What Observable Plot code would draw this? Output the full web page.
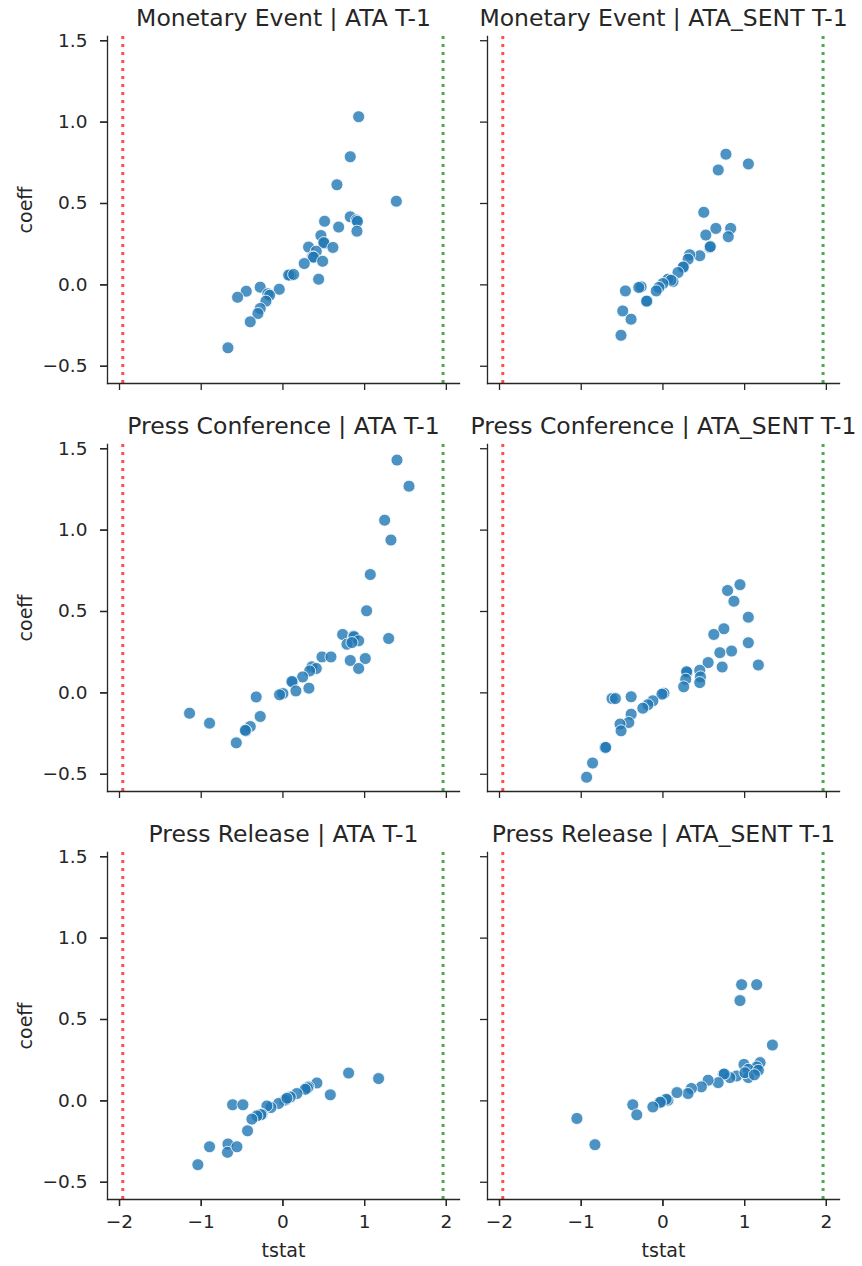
<!DOCTYPE html>
<html>
<head>
<meta charset="utf-8">
<script src="https://cdn.jsdelivr.net/npm/d3@7"></script>
<script src="https://cdn.jsdelivr.net/npm/@observablehq/plot@0.6"></script>
<style>
  html, body { margin: 0; padding: 0; background: #fff; }
  #chart { width: 862px; height: 1266px; }
</style>
</head>
<body>
<div id="chart"></div>
<script>
// ---- categories ----
const rows = ["Monetary Event", "Press Conference", "Press Release"];
const cols = ["ATA T-1", "ATA_SENT T-1"];
const xTicks = [-2, -1, 0, 1, 2];
const yTicks = [-0.5, 0, 0.5, 1.0, 1.5];
const critical = [-1.96, 1.96];
const xLabel = "tstat";
const yLabel = "coeff";

// ---- Monetary Event | ATA T-1 ----
const meAtaT = [0.927,0.824,0.661,1.388,0.824,0.900,0.912,0.906,0.510,0.682,0.465,0.506,0.500,0.612,0.314,0.408,0.363,0.375,0.486,0.261,0.437,0.090,0.070,0.131,-0.045,-0.278,-0.449,-0.555,-0.184,-0.163,-0.208,-0.278,-0.306,-0.400,-0.673];
const meAtaC = [1.033,0.787,0.615,0.514,0.418,0.398,0.390,0.330,0.391,0.355,0.303,0.254,0.260,0.230,0.232,0.207,0.172,0.170,0.145,0.131,0.035,0.059,0.060,0.064,-0.027,-0.014,-0.039,-0.076,-0.055,-0.064,-0.100,-0.145,-0.176,-0.227,-0.387];

// ---- Monetary Event | ATA_SENT T-1 ----
const meSentT = [0.771,1.046,0.677,0.500,0.648,0.829,0.525,0.800,0.574,0.580,0.451,0.328,0.308,0.246,0.250,0.185,0.123,0.062,0.100,0.000,-0.049,-0.082,-0.267,-0.295,-0.459,-0.193,-0.200,-0.492,-0.390,-0.513];
const meSentC = [0.803,0.743,0.706,0.446,0.347,0.347,0.306,0.296,0.230,0.235,0.179,0.185,0.158,0.107,0.110,0.076,0.021,0.035,0.029,0.008,-0.016,-0.037,-0.012,-0.016,-0.037,-0.099,-0.100,-0.160,-0.211,-0.310];

// ---- Press Conference | ATA T-1 ----
const pcAtaT = [1.396,1.543,1.245,1.322,1.069,1.024,1.294,0.731,0.865,0.870,0.927,0.784,0.845,0.824,1.008,0.927,0.478,0.588,0.355,0.408,0.327,0.241,0.118,0.110,0.159,0.318,0.000,-0.041,-0.327,-0.278,-0.400,-0.453,-0.460,-0.571,-0.898,-1.143];
const pcAtaC = [1.430,1.270,1.061,0.939,0.727,0.504,0.334,0.359,0.350,0.345,0.320,0.299,0.309,0.199,0.211,0.150,0.221,0.221,0.160,0.150,0.135,0.098,0.064,0.070,0.012,0.029,-0.004,-0.012,-0.025,-0.145,-0.207,-0.234,-0.230,-0.307,-0.186,-0.125];

// ---- Press Conference | ATA_SENT T-1 ----
const pcSentT = [0.943,0.791,0.869,1.045,0.746,0.623,1.045,0.840,0.697,1.168,0.725,0.553,0.451,0.459,0.451,0.295,0.290,0.279,0.254,0.012,-0.012,-0.123,-0.184,-0.246,-0.389,-0.623,-0.582,-0.389,-0.418,-0.525,-0.512,-0.709,-0.700,-0.861,-0.934];
const pcSentC = [0.665,0.629,0.563,0.465,0.394,0.359,0.308,0.257,0.247,0.171,0.159,0.186,0.139,0.098,0.063,0.124,0.130,0.084,0.037,-0.002,-0.008,-0.049,-0.073,-0.094,-0.024,-0.035,-0.035,-0.131,-0.182,-0.192,-0.233,-0.335,-0.335,-0.431,-0.518];

// ---- Press Release | ATA T-1 ----
const prAtaT = [0.804,1.171,0.580,0.416,0.314,0.300,0.273,0.171,0.090,0.016,0.030,-0.053,-0.147,-0.196,-0.257,-0.270,-0.318,-0.380,-0.616,-0.490,-0.433,-0.673,-0.678,-0.563,-0.898,-1.041,0.049];
const prAtaC = [0.171,0.137,0.037,0.110,0.086,0.080,0.071,0.045,0.024,0.004,0.006,-0.016,-0.041,-0.031,-0.082,-0.085,-0.092,-0.112,-0.024,-0.024,-0.184,-0.265,-0.316,-0.282,-0.282,-0.392,0.016];

// ---- Press Release | ATA_SENT T-1 ----
const prSentT = [0.963,1.148,0.943,1.340,1.189,0.992,1.148,1.045,1.168,1.045,0.902,0.820,0.738,0.750,0.676,0.553,0.471,0.348,0.307,0.172,0.061,0.040,-0.041,-0.030,-0.123,-0.369,-0.320,-1.053,-0.832,1.004,1.120];
const prSentC = [0.714,0.714,0.616,0.343,0.235,0.224,0.208,0.194,0.188,0.143,0.153,0.143,0.163,0.165,0.112,0.127,0.086,0.076,0.045,0.051,0.004,0.010,-0.010,-0.008,-0.037,-0.024,-0.086,-0.108,-0.269,0.173,0.160];

// ---- build table ----
const panels = [
  {row: rows[0], col: cols[0], t: meAtaT, c: meAtaC},
  {row: rows[0], col: cols[1], t: meSentT, c: meSentC},
  {row: rows[1], col: cols[0], t: pcAtaT, c: pcAtaC},
  {row: rows[1], col: cols[1], t: pcSentT, c: pcSentC},
  {row: rows[2], col: cols[0], t: prAtaT, c: prAtaC},
  {row: rows[2], col: cols[1], t: prSentT, c: prSentC}
];
const points = panels.flatMap(p => p.t.map((t, i) => ({row: p.row, col: p.col, tstat: t, coeff: p.c[i]})));
const titles = panels.map(p => ({row: p.row, col: p.col, title: `${p.row} | ${p.col}`}));
const yLabels = rows.map(r => ({row: r, col: cols[0], label: yLabel}));
const xLabels = cols.map(c => ({row: rows[rows.length - 1], col: c, label: xLabel}));

const ink = "#262626";

const chart = Plot.plot({
  width: 862,
  height: 1266,
  marginLeft: 107,
  marginRight: 22,
  marginTop: 35,
  marginBottom: 66,
  style: {fontFamily: "DejaVu Sans, sans-serif", color: ink, background: "#fff"},
  x: {domain: [-2.147, 2.161]},
  y: {domain: [-0.606, 1.526]},
  fx: {domain: cols, padding: 0.0736, axis: null},
  fy: {domain: rows, padding: 0.1504, axis: null},
  marks: [
    Plot.ruleX([critical[0]], {stroke: "red", strokeOpacity: 0.7, strokeWidth: 3, strokeDasharray: "3,5"}),
    Plot.ruleX([critical[1]], {stroke: "green", strokeOpacity: 0.7, strokeWidth: 3, strokeDasharray: "3,5"}),
    Plot.dot(points, {x: "tstat", y: "coeff", fx: "col", fy: "row", r: 6, fill: "#1f77b4", fillOpacity: 0.8, stroke: "white", strokeWidth: 1, strokeOpacity: 0.8}),
    Plot.frame({anchor: "left", stroke: ink, strokeWidth: 1.3}),
    Plot.frame({anchor: "bottom", stroke: ink, strokeWidth: 1.3}),
    // tick marks on every panel
    Plot.axisX({ticks: xTicks, tickSize: 7, tickFormat: () => "", facetAnchor: null, label: null, stroke: ink, strokeWidth: 1.3}),
    Plot.axisY({ticks: yTicks, tickSize: 7, tickFormat: () => "", facetAnchor: null, label: null, stroke: ink, strokeWidth: 1.3}),
    // labelled axes on outer panels
    Plot.axisX({ticks: xTicks, tickSize: 7, tickPadding: 8, tickFormat: d3.format("d"), facetAnchor: "bottom", fontSize: 18.5, label: null, stroke: ink, strokeWidth: 1.3}),
    Plot.axisY({ticks: yTicks, tickSize: 7, tickPadding: 13, tickFormat: d3.format(".1f"), facetAnchor: "left", fontSize: 18.5, label: null, stroke: ink, strokeWidth: 1.3}),
    // axis titles per panel row / column
    Plot.text(yLabels, {fx: "col", fy: "row", text: "label", frameAnchor: "left", rotate: -90, dx: -82, textAnchor: "middle", lineAnchor: "middle", fontSize: 19, fill: ink}),
    Plot.text(xLabels, {fx: "col", fy: "row", text: "label", frameAnchor: "bottom", dy: 51, textAnchor: "middle", lineAnchor: "middle", fontSize: 19, fill: ink}),
    // panel titles
    Plot.text(titles, {fx: "col", fy: "row", text: "title", frameAnchor: "top", lineAnchor: "bottom", dy: -11, fontSize: 23.5, fill: ink})
  ]
});
document.getElementById("chart").appendChild(chart);
</script>
</body>
</html>
